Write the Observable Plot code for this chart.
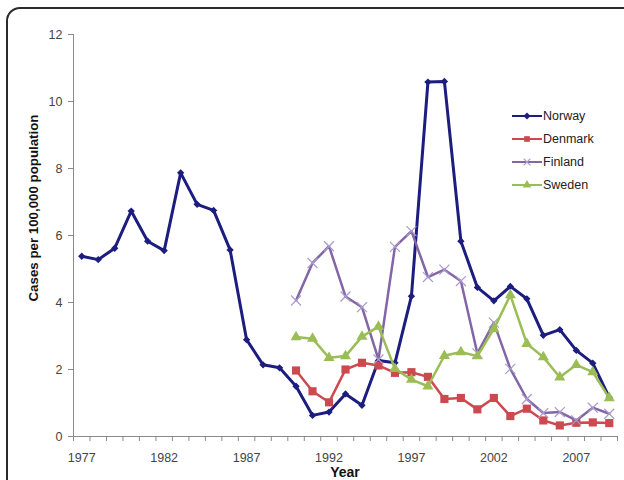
<!DOCTYPE html>
<html>
<head>
<meta charset="utf-8">
<script src="https://cdn.jsdelivr.net/npm/d3@7"></script>
<script src="https://cdn.jsdelivr.net/npm/@observablehq/plot@0.6"></script>
<style>
  html, body { margin: 0; padding: 0; background: #fff; }
  #wrap { position: relative; width: 624px; height: 480px; overflow: hidden;
          font-family: Arial, "Liberation Sans", sans-serif; }
  #frame { position: absolute; left: 6px; top: 7px; width: 700px; height: 600px;
           border: 2.5px solid #2b2b2b; border-radius: 14px; box-sizing: border-box; pointer-events: none; }
  #chart { position: absolute; left: 0; top: 0; }
  #ytitle { position: absolute; left: 33px; top: 208px; transform: translate(-50%, -50%) rotate(-90deg);
            white-space: nowrap; font-weight: bold; font-size: 13.3px; color: #111; }
  #xtitle { position: absolute; left: 345px; top: 472px; transform: translate(-50%, -50%);
            font-weight: bold; font-size: 14px; line-height: 14px; color: #111; }
  #legend { position: absolute; left: 512px; top: 105px; font-size: 12.5px; color: #222; }
  .item { display: flex; align-items: center; height: 22.8px; }
  .item svg { display: block; margin-right: 1px; }
</style>
</head>
<body>
<div id="wrap">
  <div id="chart"></div>
  <div id="ytitle">Cases per 100,000 population</div>
  <div id="xtitle">Year</div>
  <div id="legend"></div>
  <div id="frame"></div>
</div>
<script>
// Incidence, cases per 100,000 population
const years = [1977, 1978, 1979, 1980, 1981, 1982, 1983, 1984, 1985, 1986, 1987,
               1988, 1989, 1990, 1991, 1992, 1993, 1994, 1995, 1996, 1997, 1998,
               1999, 2000, 2001, 2002, 2003, 2004, 2005, 2006, 2007, 2008, 2009];
const laterYears = [1990, 1991, 1992, 1993, 1994, 1995, 1996, 1997, 1998, 1999,
                    2000, 2001, 2002, 2003, 2004, 2005, 2006, 2007, 2008, 2009];

const norway  = [5.38, 5.28, 5.62, 6.73, 5.83, 5.55, 7.87, 6.93, 6.75, 5.57, 2.89,
                 2.14, 2.05, 1.50, 0.63, 0.73, 1.27, 0.93, 2.27, 2.20, 4.19, 10.58,
                 10.60, 5.83, 4.45, 4.05, 4.48, 4.11, 3.02, 3.19, 2.57, 2.19, 1.17];
const denmark = [1.97, 1.35, 1.02, 2.00, 2.20, 2.12, 1.90, 1.92, 1.78, 1.12,
                 1.15, 0.81, 1.15, 0.61, 0.83, 0.48, 0.33, 0.41, 0.42, 0.40];
const finland = [4.06, 5.18, 5.68, 4.18, 3.86, 2.30, 5.66, 6.13, 4.76, 4.98,
                 4.64, 2.48, 3.40, 2.02, 1.12, 0.70, 0.73, 0.48, 0.86, 0.68];
const sweden  = [2.97, 2.92, 2.35, 2.40, 2.98, 3.28, 2.02, 1.70, 1.50, 2.41,
                 2.52, 2.40, 3.21, 4.22, 2.77, 2.37, 1.77, 2.14, 1.92, 1.15];

const xTickLabels = [1977, 1982, 1987, 1992, 1997, 2002, 2007];
const yTicks = [0, 2, 4, 6, 8, 10, 12];

const series = [
  {name: "Norway",  years: years,      values: norway,  color: "#1c1d7e", width: 3,   symbol: "diamond2", r: 3.3, markColor: "#1c1d7e"},
  {name: "Denmark", years: laterYears, values: denmark, color: "#cc4a4f", width: 2.5, symbol: "square",   r: 4.6, markColor: "#cc4a4f"},
  {name: "Finland", years: laterYears, values: finland, color: "#8266a6", width: 2.5, symbol: "times",    r: 4.6, markColor: "#ab9bcb"},
  {name: "Sweden",  years: laterYears, values: sweden,  color: "#9bbd55", width: 2.5, symbol: "triangle", r: 4.1, markColor: "#9bbd55"}
];

const rowsOf = s => s.years.map((year, i) => ({year, value: s.values[i], country: s.name}));

// Category boundaries: the x ticks sit between years, labels sit on the years.
const boundaries = years.map(y => y - 0.5).concat([years[years.length - 1] + 0.5]);

const marks = [
  Plot.axisY({ticks: yTicks, tickSize: 5, tickPadding: 6, stroke: "#8a8a8a", label: null}),
  Plot.axisX({ticks: boundaries, tickSize: 5, tickFormat: () => "", stroke: "#8a8a8a", label: null}),
  Plot.axisX({ticks: xTickLabels, tickSize: 0, tickPadding: 17, tickFormat: d => String(d), label: null}),
  Plot.ruleY([0], {stroke: "#8a8a8a"}),
  Plot.ruleX([boundaries[0]], {stroke: "#8a8a8a"})
];

for (const s of series) {
  const rows = rowsOf(s);
  marks.push(Plot.line(rows, {x: "year", y: "value", stroke: s.color, strokeWidth: s.width, strokeLinejoin: "round"}));
  if (s.symbol === "times") {
    marks.push(Plot.dot(rows, {x: "year", y: "value", symbol: s.symbol, r: s.r, stroke: s.markColor, strokeWidth: 1.2}));
  } else {
    marks.push(Plot.dot(rows, {x: "year", y: "value", symbol: s.symbol, r: s.r, fill: s.markColor, stroke: "none"}));
  }
}

const chart = Plot.plot({
  width: 624,
  height: 480,
  marginLeft: 73,
  marginRight: 7,
  marginTop: 34,
  marginBottom: 44,
  style: {fontFamily: "Arial, 'Liberation Sans', sans-serif", fontSize: "12.5px", color: "#444", background: "transparent"},
  x: {domain: [boundaries[0], boundaries[boundaries.length - 1]]},
  y: {domain: [0, 12]},
  marks
});
document.getElementById("chart").appendChild(chart);

// Legend: line swatch with the series marker, then the name
const legend = d3.select("#legend");
const symbolTypes = {diamond2: d3.symbolDiamond2, square: d3.symbolSquare, times: d3.symbolTimes, triangle: d3.symbolTriangle};
for (const s of series) {
  const item = legend.append("div").attr("class", "item");
  const sw = item.append("svg").attr("width", 30).attr("height", 14);
  sw.append("line").attr("x1", 0).attr("x2", 30).attr("y1", 7).attr("y2", 7)
    .attr("stroke", s.color).attr("stroke-width", 2);
  const path = d3.symbol(symbolTypes[s.symbol], Math.PI * 3.2 * 3.2)();
  const p = sw.append("path").attr("d", path).attr("transform", "translate(15,7)");
  if (s.symbol === "times") p.attr("fill", "none").attr("stroke", s.markColor).attr("stroke-width", 1.2);
  else p.attr("fill", s.markColor);
  item.append("span").text(s.name);
}
</script>
</body>
</html>
